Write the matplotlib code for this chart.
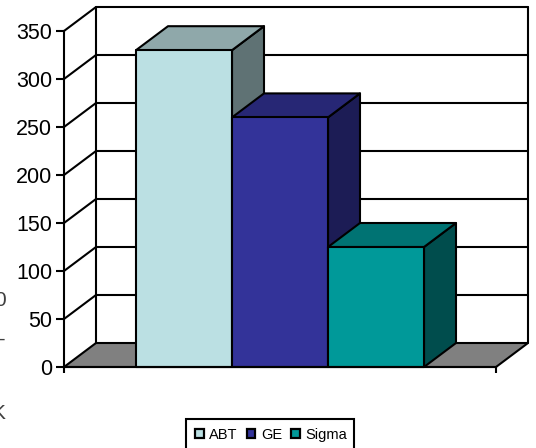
import matplotlib
matplotlib.use("Agg")
import matplotlib.pyplot as plt
from matplotlib.patches import Polygon, Rectangle

names = ["ABT", "GE", "Sigma"]
values = [330, 260, 125]
front_colors = ["#BBE0E3", "#333399", "#009999"]
top_colors = ["#8FA8AA", "#272775", "#007373"]
side_colors = ["#5F7274", "#1C1C55", "#004D4D"]
y_ticks = [0, 50, 100, 150, 200, 250, 300, 350]

W, H = 536, 448
plt.rcParams["font.family"] = ["Liberation Sans", "DejaVu Sans"]
fig = plt.figure(figsize=(W / 100, H / 100), dpi=100, facecolor="white")
ax = fig.add_axes([64 / W, 1 - 367 / H, 432 / W, 336 / H], facecolor="none")

x_max = 4.5
y_max = 350
dx = 1 / 3
dy = 25
bar_w = 1.0
x_start = 0.75
LW = 1.5

ax.set_xlim(0, x_max)
ax.set_ylim(0, y_max)

def poly(pts, fc, z):
    ax.add_patch(Polygon(pts, closed=True, facecolor=fc, edgecolor="black",
                         linewidth=LW, clip_on=False, zorder=z, joinstyle="round"))

def line(xs, ys, z=2):
    ax.plot(xs, ys, color="black", lw=LW, clip_on=False, zorder=z, solid_capstyle="round")

# floor
poly([(0, 0), (x_max, 0), (x_max + dx, dy), (dx, dy)], "#808080", 1)
# back wall and side wall grid
for t in y_ticks:
    if t > 0:
        line([0, dx, x_max + dx], [t, t + dy, t + dy])
line([dx, dx], [dy, y_max + dy])
line([x_max + dx, x_max + dx], [dy, y_max + dy])

# bars
for i, (v, f, t, s) in enumerate(zip(values, front_colors, top_colors, side_colors)):
    x0 = x_start + i * bar_w
    x1 = x0 + bar_w
    poly([(x1, 0), (x1 + dx, dy), (x1 + dx, v + dy), (x1, v)], s, 3 + i)
    poly([(x0, v), (x1, v), (x1 + dx, v + dy), (x0 + dx, v + dy)], t, 3 + i)
    poly([(x0, 0), (x1, 0), (x1, v), (x0, v)], f, 3 + i)

for sp in ("top", "right"):
    ax.spines[sp].set_visible(False)
for sp in ("left", "bottom"):
    ax.spines[sp].set_linewidth(LW)
    ax.spines[sp].set_zorder(8)
ax.set_yticks(y_ticks)
ax.set_xticks([0, x_max])
ax.set_xticklabels([])
ax.tick_params(axis="y", length=5.5, width=LW, labelsize=15.5, pad=3, colors="black")
ax.tick_params(axis="x", length=4.5, width=LW)

# legend frame runs off the bottom of the figure
fig.add_artist(Rectangle((186 / W, -0.02), 168 / W, 1 - 419 / H + 0.02,
                         transform=fig.transFigure, facecolor="white",
                         edgecolor="black", linewidth=LW))
handles = [Rectangle((0, 0), 1, 1, facecolor=c, edgecolor="black", linewidth=1.6) for c in front_colors]
leg = fig.legend(handles, names, ncol=3, loc="upper left",
                 bbox_to_anchor=(186 / W, 1 - 419 / H), bbox_transform=fig.transFigure,
                 fontsize=10.5, frameon=False, borderpad=0.6, borderaxespad=0,
                 handlelength=0.6, handleheight=0.6, handletextpad=0.38,
                 columnspacing=0.62)

# clipped remnants of neighbouring text at the left edge
fig.text(6 / W, 1 - 301 / H, "0", fontsize=15, color="#404040", ha="right", va="center")
fig.text(5 / W, 1 - 339 / H, "\u2013", fontsize=15, color="#404040", ha="right", va="center")
fig.text(5 / W, 1 - 413 / H, "K", fontsize=15, color="#404040", ha="right", va="center")

fig.savefig("out.png", dpi=100, facecolor="white")
